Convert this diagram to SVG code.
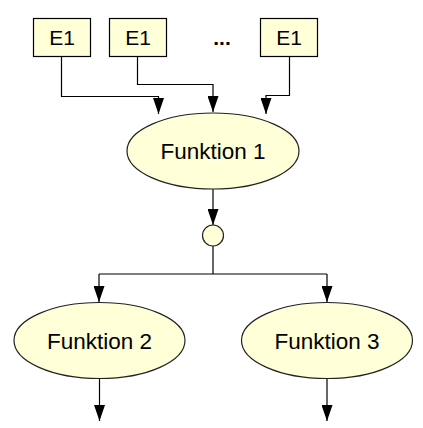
<svg xmlns="http://www.w3.org/2000/svg" width="423" height="428" viewBox="0 0 423 428">
<style>
.box{fill:#FFFFD8;stroke:#000;stroke-width:1.2}
.ell{fill:#FFFFD8;stroke:#222;stroke-width:1.2}
.t{font-family:"Liberation Sans",Arial,sans-serif;fill:#000;text-anchor:middle}
.c{fill:none;stroke:#000;stroke-width:1.2}
</style>
<defs>
<marker id="ah" viewBox="0 0 10 15" refX="10" refY="5" markerWidth="10" markerHeight="15" markerUnits="userSpaceOnUse" orient="auto">
<path d="M0,0 L15,5 L0,10 Z" fill="#000" transform="scale(1)"/>
</marker>
<marker id="a" viewBox="0 0 16 11" refX="16" refY="5.5" markerWidth="16" markerHeight="11" markerUnits="userSpaceOnUse" orient="auto">
<path d="M0,0 L16,5.5 L0,11 Z" fill="#000"/>
</marker>
</defs>
<g id="connectors">
<path class="c" d="M61.5,56 V96.5 H158.5 V114" marker-end="url(#a)"/>
<path class="c" d="M137.5,56 V84.5 H213 V112" marker-end="url(#a)"/>
<path class="c" d="M289.5,56 V95.5 H266 V114" marker-end="url(#a)"/>
<path class="c" d="M213,189 V225" marker-end="url(#a)"/>
<path class="c" d="M213,246 V274"/>
<path class="c" d="M99,274 H327"/>
<path class="c" d="M99,274 V302" marker-end="url(#a)"/>
<path class="c" d="M327,274 V302" marker-end="url(#a)"/>
<path class="c" d="M99.5,378 V421" marker-end="url(#a)"/>
<path class="c" d="M327,378 V421" marker-end="url(#a)"/>
</g>
<g id="e1a"><rect class="box" x="33.5" y="18.5" width="57" height="38"/><text class="t" x="62" y="45" font-size="21">E1</text></g>
<g id="e1b"><rect class="box" x="109.5" y="18.5" width="57" height="38"/><text class="t" x="138" y="45" font-size="21">E1</text></g>
<g id="dots"><text class="t" x="222" y="45" font-size="21" font-weight="bold">...</text></g>
<g id="e1c"><rect class="box" x="260.5" y="18.5" width="57" height="38"/><text class="t" x="289" y="45" font-size="21">E1</text></g>
<g id="f1"><ellipse class="ell" cx="213" cy="151" rx="86" ry="38"/><text class="t" x="213" y="159" font-size="22.5">Funktion 1</text></g>
<g id="conn"><circle class="ell" cx="213" cy="235.5" r="10.5"/></g>
<g id="f2"><ellipse class="ell" cx="99.5" cy="340.5" rx="85.5" ry="38"/><text class="t" x="99.5" y="348.5" font-size="22.5">Funktion 2</text></g>
<g id="f3"><ellipse class="ell" cx="327" cy="340.5" rx="85.5" ry="38"/><text class="t" x="327" y="348.5" font-size="22.5">Funktion 3</text></g>
</svg>
